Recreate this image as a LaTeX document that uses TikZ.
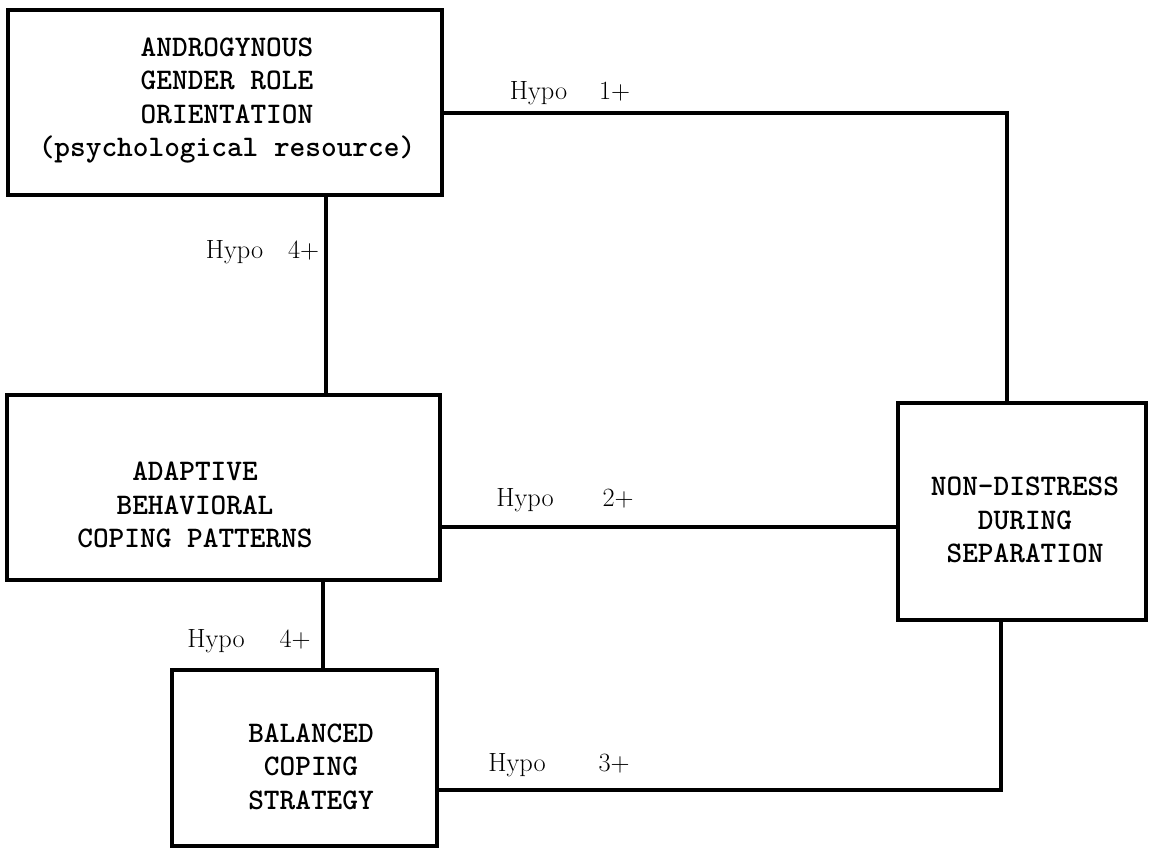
\documentclass[tikz,border=0pt]{standalone}

\begin{document}
\begin{tikzpicture}[
    box/.style={draw, line width=2pt, inner sep=0pt},
    boxtxt/.style={align=center, font=\fontsize{17}{19}\selectfont\ttfamily\bfseries},
    hypo/.style={font=\fontsize{15}{18}\selectfont},
    link/.style={line width=1.8pt}
]
    \useasboundingbox (0,0) rectangle (22.98,16.94);

    % Boxes
    \node[box, minimum width=8.68cm, minimum height=3.70cm] (andro) at (4.50,14.89) {};
    \node[box, minimum width=8.66cm, minimum height=3.70cm] (adapt) at (4.47,7.19) {};
    \node[box, minimum width=5.30cm, minimum height=3.52cm] (balance) at (6.09,1.78) {};
    \node[box, minimum width=4.96cm, minimum height=4.34cm] (nondist) at (20.44,6.71) {};

    % Box texts
    \node[boxtxt] (andro-t) at (4.54,14.93) {ANDROGYNOUS\\GENDER ROLE\\ORIENTATION\\(psychological resource)};
    \node[boxtxt] (adapt-t) at (3.90,6.84) {ADAPTIVE\\BEHAVIORAL\\COPING PATTERNS};
    \node[boxtxt] (balance-t) at (6.22,1.61) {BALANCED\\COPING\\STRATEGY};
    \node[boxtxt] (nondist-t) at (20.50,6.54) {NON-DISTRESS\\DURING\\SEPARATION};

    % Corner points
    \coordinate (c1) at (20.14,14.68);
    \coordinate (c2) at (9.00,6.40);
    \coordinate (c3) at (20.02,1.14);
    \coordinate (c4) at (6.52,11.00);
    \coordinate (c5) at (6.46,4.00);

    % Connections
    \draw[link] (andro.east |- c1) -- (c1) -- (nondist.north -| c1);
    \draw[link] (nondist.west |- c2) -- (adapt.east |- c2);
    \draw[link] (balance.east |- c3) -- (c3) -- (nondist.south -| c3);
    \draw[link] (andro.south -| c4) -- (adapt.north -| c4);
    \draw[link] (adapt.south -| c5) -- (balance.north -| c5);

    % Hypothesis labels
    \node[hypo] (h1) at (11.40,15.08) {Hypo\hspace{0.64cm}1+};
    \node[hypo] (h2) at (11.30,6.94) {Hypo\hspace{0.98cm}2+};
    \node[hypo] (h3) at (11.18,1.64) {Hypo\hspace{1.06cm}3+};
    \node[hypo] (h4a) at (5.25,11.90) {Hypo\hspace{0.5cm}4+};
    \node[hypo] (h4b) at (4.98,4.12) {Hypo\hspace{0.7cm}4+};
\end{tikzpicture}
\end{document}
